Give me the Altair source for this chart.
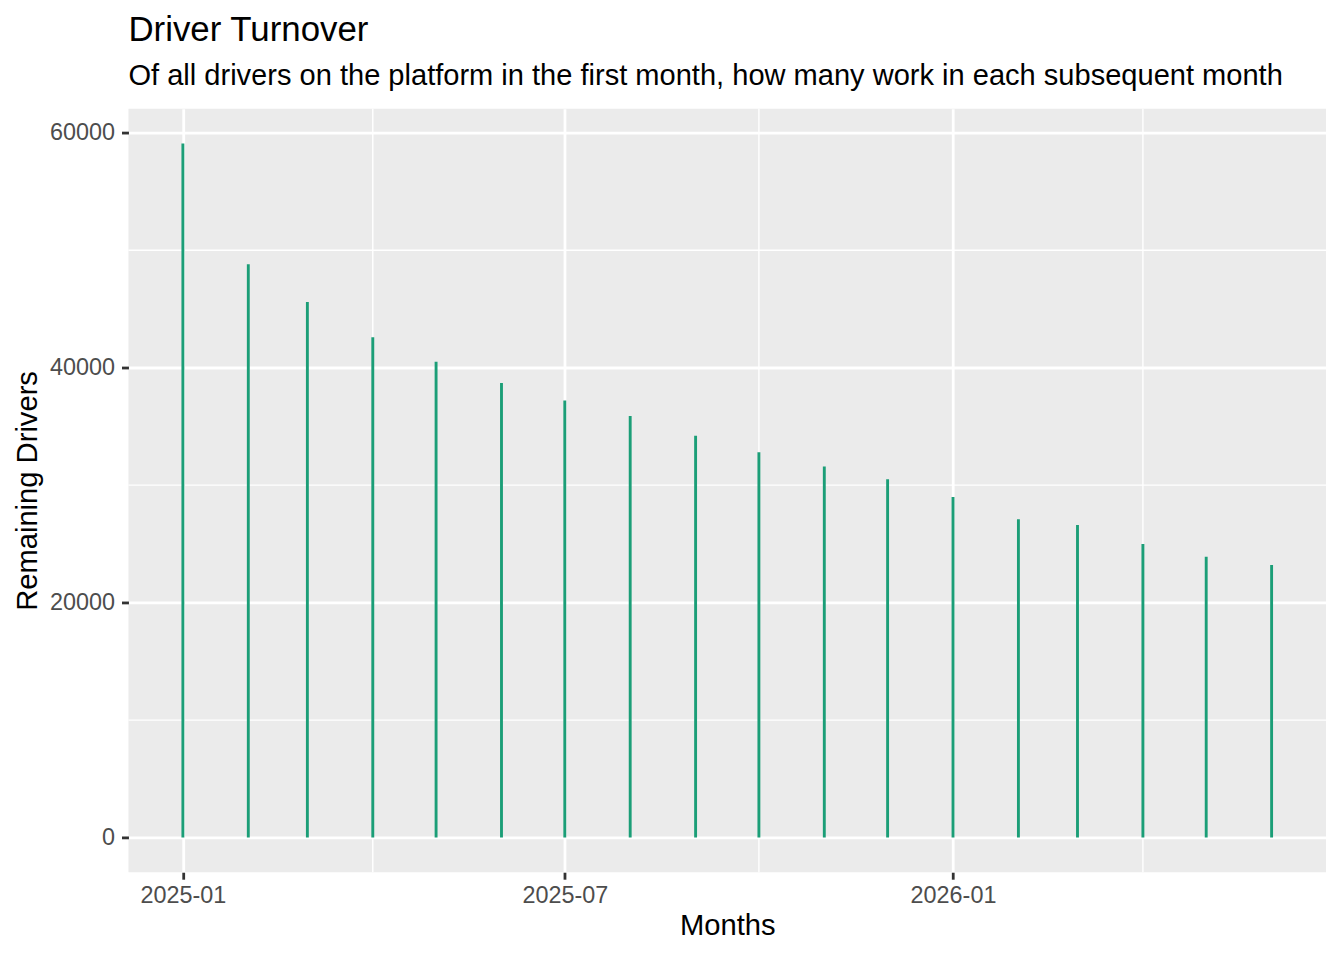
import altair as alt
import pandas as pd

months = ["2025-01", "2025-02", "2025-03", "2025-04", "2025-05", "2025-06",
          "2025-07", "2025-08", "2025-09", "2025-10", "2025-11", "2025-12",
          "2026-01", "2026-02", "2026-03", "2026-04", "2026-05", "2026-06"]
drivers = [59100, 48800, 45600, 42600, 40500, 38700,
           37200, 35900, 34200, 32800, 31600, 30500,
           29000, 27100, 26600, 25000, 23900, 23200]
major_x = ["2025-01", "2025-07", "2026-01"]
minor_x = ["2025-04", "2025-10", "2026-04"]
major_y = [0, 20000, 40000, 60000]
minor_y = [10000, 30000, 50000]


def ms(m):
    return int(pd.Timestamp(m + "-01", tz="UTC").timestamp() * 1000)


df = pd.DataFrame({"t": [ms(m) for m in months], "n": drivers})
t0, t1 = df["t"].min(), df["t"].max()
ex = (t1 - t0) * 0.05
xdom = [t0 - ex, t1 + ex]
ymax = max(drivers)
ydom = [-ymax * 0.05, ymax * 1.05]

FONT = "Liberation Sans"
W, H = 1203, 767

xs = alt.Scale(domain=xdom, nice=False)
ys = alt.Scale(domain=ydom, nice=False, zero=False)

xaxis = alt.Axis(
    values=[ms(m) for m in major_x],
    labelExpr="utcFormat(datum.value, '%Y-%m')",
    grid=True,
    gridColor="white",
    gridWidth=2.8,
    domain=False,
    tickColor="#333333",
    tickWidth=2.8,
    tickSize=7,
    labelFont=FONT,
    labelFontSize=23.5,
    labelColor="#4D4D4D",
    labelPadding=4,
    titleFont=FONT,
    titleFontSize=29.3,
    titleFontWeight="normal",
    titleColor="black",
    titleBaseline="alphabetic",
    titleY=63,
)
yaxis = alt.Axis(
    values=major_y,
    format="d",
    grid=True,
    gridColor="white",
    gridWidth=2.8,
    domain=False,
    tickColor="#333333",
    tickWidth=2.8,
    tickSize=7,
    labelFont=FONT,
    labelFontSize=23.5,
    labelColor="#4D4D4D",
    labelPadding=7,
    titleFont=FONT,
    titleFontSize=29.3,
    titleFontWeight="normal",
    titleColor="black",
    titleBaseline="alphabetic",
    titleAngle=270,
    titleX=-92,
    titleY=H / 2,
)

X = alt.X("t:T", scale=xs, title="Months", axis=xaxis)
Y = alt.Y("n:Q", scale=ys, title="Remaining Drivers", axis=yaxis)

minor_df = pd.DataFrame({"t": [ms(m) for m in minor_x]})
minor_y_df = pd.DataFrame({"n": minor_y})

minor_v = alt.Chart(minor_df).mark_rule(color="white", strokeWidth=1.4).encode(x=X)
minor_h = alt.Chart(minor_y_df).mark_rule(color="white", strokeWidth=1.4).encode(y=Y)

bars = alt.Chart(df).mark_rule(color="#1B9E77", strokeWidth=2.9).encode(
    x=X, y=Y, y2=alt.datum(0)
)

chart = (
    alt.layer(minor_v, minor_h, bars)
    .properties(
        width=W,
        height=H,
        background="white",
        autosize=alt.AutoSizeParams(type="none"),
        padding={"left": 121, "top": 99, "right": 10, "bottom": 80},
        title=alt.TitleParams(
            text="Driver Turnover",
            subtitle="Of all drivers on the platform in the first month, how many work in each subsequent month",
            anchor="start",
            frame="group",
            font=FONT,
            fontSize=35,
            fontWeight="normal",
            color="black",
            subtitleFont=FONT,
            subtitleFontSize=29.2,
            subtitleColor="black",
            subtitlePadding=14,
            offset=17,
        ),
    )
    .configure_view(fill="#EBEBEB", strokeWidth=0)
)

chart.save("out.html", embed_options={"renderer": "svg", "actions": False})
